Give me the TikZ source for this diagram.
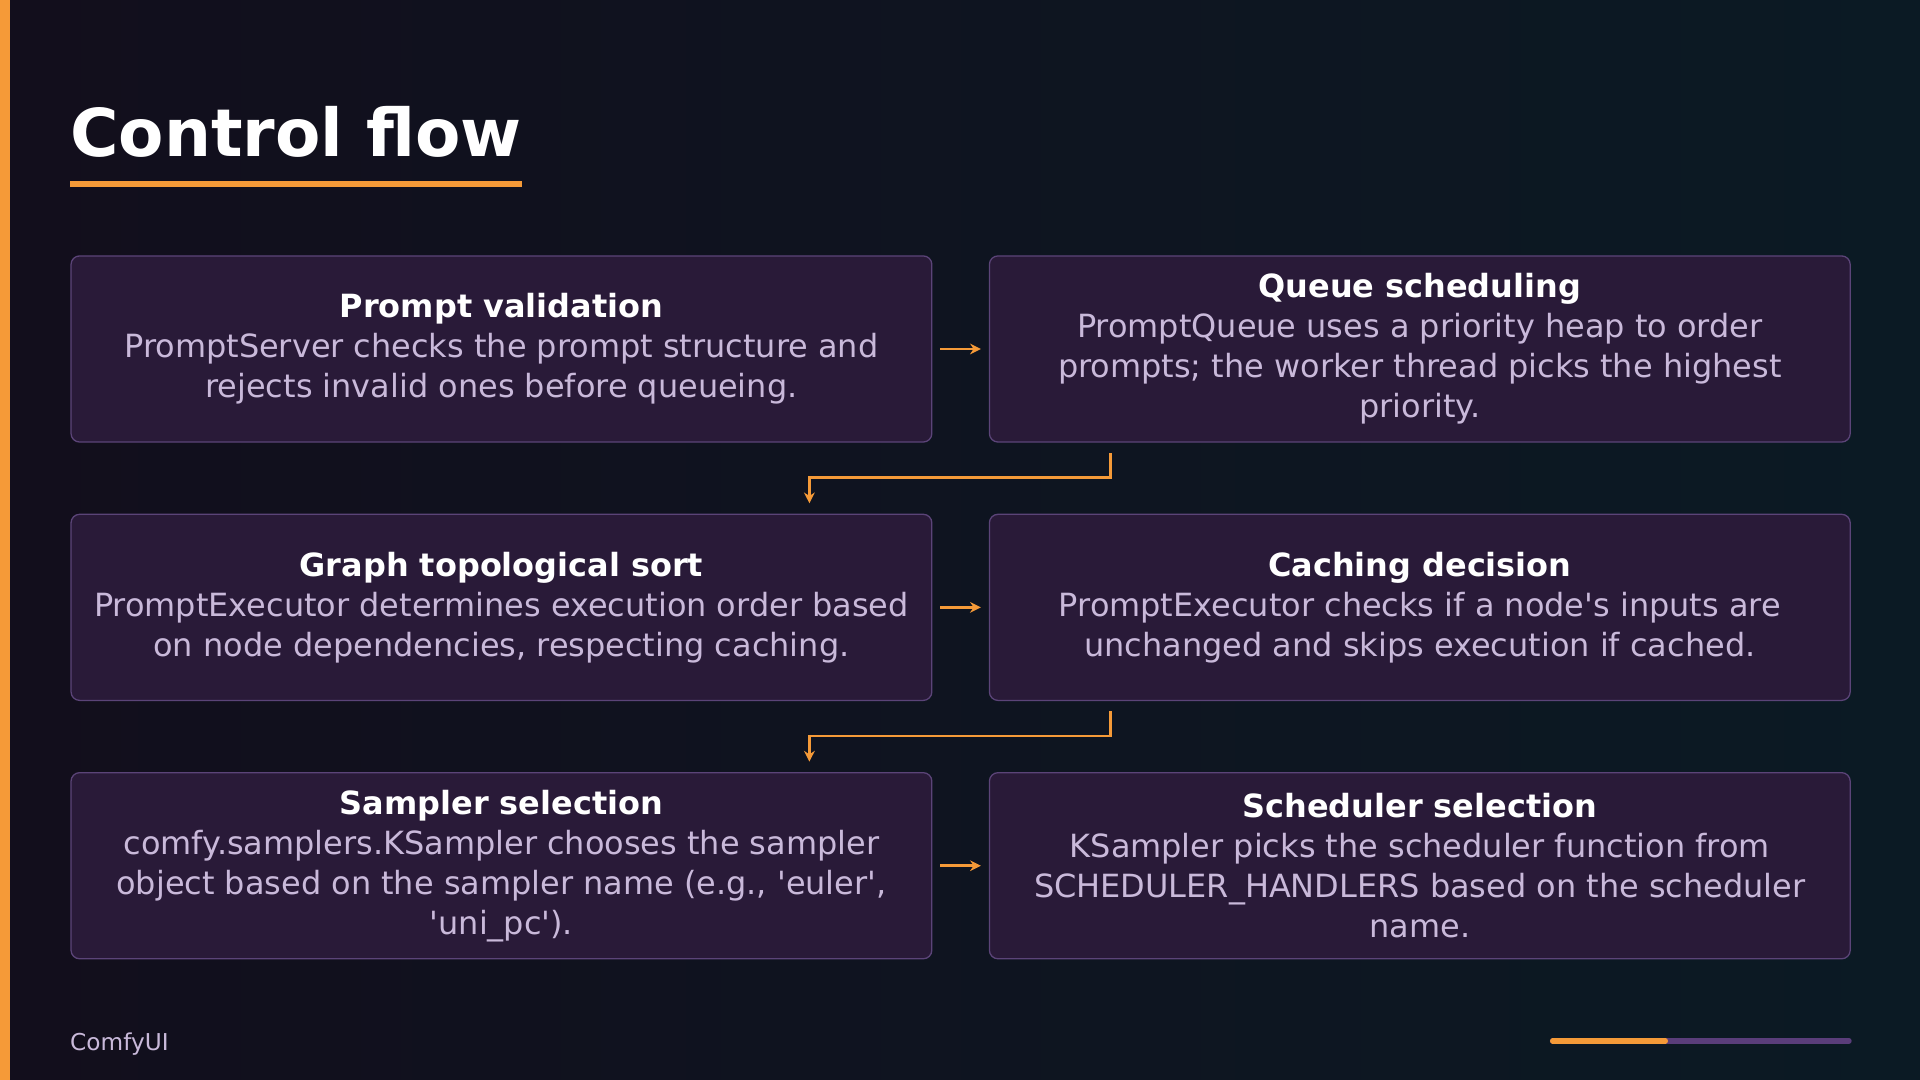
\documentclass[tikz,border=0pt]{standalone}
\usepackage{fontspec}
\setmainfont{DejaVu Sans}
\usetikzlibrary{arrows.meta}
\definecolor{bgA}{HTML}{120E1C}
\definecolor{bgB}{HTML}{0B1A24}
\definecolor{boxf}{HTML}{291A38}
\definecolor{boxd}{HTML}{5B4478}
\definecolor{bodyc}{HTML}{C9B9DA}
\definecolor{orng}{HTML}{F59A38}
\definecolor{purp}{HTML}{5A3D7A}
\newcommand\sq{\textquotesingle}
\begin{document}
\begin{tikzpicture}[x=0.02cm,y=-0.02cm,
 box/.style={draw=boxd,fill=boxf,rounded corners=4pt,line width=0.6pt},
 txt/.style={align=center,font=\fontsize{14.85}{18.6}\selectfont,text=bodyc},
 arr/.style={draw=orng,line width=1.2pt,-{Stealth[length=5pt,width=5pt]}}]
\shade[left color=bgA,right color=bgB] (0,0) rectangle (1568,882);
\useasboundingbox (0,0) rectangle (1568,882);
\fill[orng] (0,0) rectangle (8,882);
\node[anchor=base west,inner sep=0,text=white,font=\fontsize{30.7}{36}\selectfont\bfseries] (title) at (57,128) {Control flow};
\fill[orng] (57,148) rectangle (426,153);
\newcommand\mybox[5]{%
 \draw[box] (#2,#3) rectangle +(703,152);
 \node[txt] (#1) at (#2+351.5,#3+76) {{\color{white}\bfseries #4}\\#5};}
\mybox{a}{58}{209}{Prompt validation}{PromptServer checks the prompt structure and\\rejects invalid ones before queueing.}
\mybox{b}{808}{209}{Queue scheduling}{PromptQueue uses a priority heap to order\\prompts; the worker thread picks the highest\\priority.}
\mybox{c}{58}{420}{Graph topological sort}{PromptExecutor determines execution order based\\on node dependencies, respecting caching.}
\mybox{d}{808}{420}{Caching decision}{PromptExecutor checks if a node\sq s inputs are\\unchanged and skips execution if cached.}
\mybox{e}{58}{631}{Sampler selection}{comfy.samplers.KSampler chooses the sampler\\object based on the sampler name (e.g., \sq euler\sq,\\\sq uni\_pc\sq).}
\mybox{f}{808}{631}{Scheduler selection}{KSampler picks the scheduler function from\\SCHEDULER\_HANDLERS based on the scheduler\\name.}
\coordinate (a1) at (768,285); \coordinate (b1) at (801,285);
\coordinate (c1) at (768,496); \coordinate (d1) at (801,496);
\coordinate (e1) at (768,707); \coordinate (f1) at (801,707);
\draw[arr] (a1)--(b1); \draw[arr] (c1)--(d1); \draw[arr] (e1)--(f1);
\coordinate (p1) at (907,370); \coordinate (p2) at (661,411);
\draw[arr] (p1)--(907,390)--(661,390)--(p2);
\coordinate (q1) at (907,581); \coordinate (q2) at (661,622);
\draw[arr] (q1)--(907,601)--(661,601)--(q2);
\node[anchor=base west,inner sep=0,text=bodyc,font=\fontsize{10.8}{12}\selectfont] (foot) at (57,858) {ComfyUI};
\draw[purp,line width=2.5pt,line cap=round] (1268,850)--(1510,850);
\draw[orng,line width=2.5pt,line cap=round] (1268,850)--(1360,850);
\end{tikzpicture}
\end{document}
